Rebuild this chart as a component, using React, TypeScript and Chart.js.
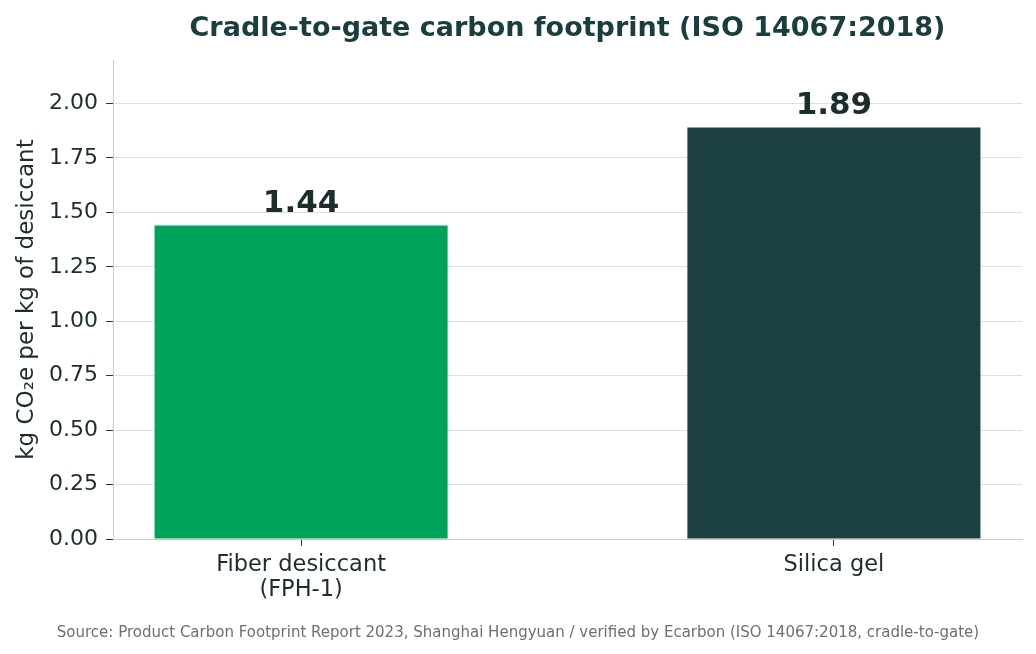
import { useRef, useEffect } from "react"
import { Chart, registerables } from "chart.js"

Chart.register(...registerables)

const categories = [["Fiber desiccant", "(FPH-1)"], ["Silica gel"]]
const footprint = [1.44, 1.89]
const barColors = ["#00a35a", "#1c4042"]
const yTicks = [0, 0.25, 0.5, 0.75, 1.0, 1.25, 1.5, 1.75, 2.0]

const TITLE = "Cradle-to-gate carbon footprint (ISO 14067:2018)"
const SOURCE =
    "Source: Product Carbon Footprint Report 2023, Shanghai Hengyuan / verified by Ecarbon (ISO 14067:2018, cradle-to-gate)"
const FONT = "'DejaVu Sans', sans-serif"
const TEXT_DARK = "#1c2e2c"

// title, source note and value labels
const annotations = {
    id: "annotations",
    afterDatasetsDraw(chart: Chart) {
        const { ctx, chartArea } = chart
        ctx.save()
        ctx.textAlign = "center"
        ctx.textBaseline = "alphabetic"

        ctx.fillStyle = "#1a3d3d"
        ctx.font = `bold 27px ${FONT}`
        ctx.fillText(TITLE, (chartArea.left + chartArea.right) / 2, 36)

        ctx.fillStyle = "#6e6e6e"
        ctx.font = `15px ${FONT}`
        ctx.fillText(SOURCE, chart.width / 2, 637)

        ctx.fillStyle = TEXT_DARK
        ctx.font = `bold 31px ${FONT}`
        const meta = chart.getDatasetMeta(0)
        meta.data.forEach((bar: any, i: number) => {
            ctx.fillText(footprint[i].toFixed(2), bar.x, bar.y - 13)
        })
        ctx.restore()
    },
}

export default function App() {
    const chartRef = useRef<HTMLCanvasElement | null>(null)
    const chartInstance = useRef<Chart | null>(null)

    useEffect(() => {
        document.body.style.margin = "0"
        if (!chartRef.current) return
        if (chartInstance.current) chartInstance.current.destroy()
        const ctx = chartRef.current.getContext("2d")
        if (!ctx) return

        chartInstance.current = new Chart(ctx, {
            type: "bar",
            data: {
                datasets: [
                    {
                        data: footprint.map((v, i) => ({ x: i, y: v })),
                        backgroundColor: barColors,
                        borderWidth: 0,
                        barPercentage: 0.55,
                        categoryPercentage: 1,
                    },
                ],
            },
            options: {
                animation: false,
                responsive: false,
                maintainAspectRatio: false,
                layout: { padding: { top: 60, right: 14, left: 0, bottom: 0 } },
                plugins: {
                    legend: { display: false },
                    tooltip: { enabled: false },
                    title: { display: false },
                },
                scales: {
                    x: {
                        type: "linear",
                        offset: false,
                        min: -0.353,
                        max: 1.353,
                        afterBuildTicks: (scale: any) => {
                            scale.ticks = categories.map((_, i) => ({ value: i }))
                        },
                        afterFit: (scale: any) => {
                            scale.height = 115
                        },
                        grid: {
                            offset: false,
                            drawOnChartArea: false,
                            drawTicks: true,
                            tickLength: 7,
                            tickColor: "#333333",
                        },
                        border: { color: "#cccccc", width: 1 },
                        ticks: {
                            color: TEXT_DARK,
                            font: { family: FONT, size: 22.5, lineHeight: 1.1 },
                            padding: 7,
                            maxRotation: 0,
                            autoSkip: false,
                            callback: (v: any) => categories[Number(v)] ?? "",
                        },
                    },
                    y: {
                        min: 0,
                        max: 2.2,
                        afterBuildTicks: (scale: any) => {
                            scale.ticks = yTicks.map((v) => ({ value: v }))
                        },
                        afterFit: (scale: any) => {
                            scale.width = 113
                        },
                        grid: {
                            color: "#dfdfdb",
                            tickLength: 7,
                            tickColor: "#333333",
                        },
                        border: { color: "#cccccc", width: 1 },
                        ticks: {
                            color: TEXT_DARK,
                            font: { family: FONT, size: 22 },
                            padding: 8,
                            callback: (v: any) => Number(v).toFixed(2),
                        },
                        title: {
                            display: true,
                            text: "kg CO\u2082e per kg of desiccant",
                            color: TEXT_DARK,
                            font: { family: FONT, size: 23 },
                            padding: { top: 13, bottom: 4 },
                        },
                    },
                },
            },
            plugins: [annotations],
        })

        return () => {
            if (chartInstance.current) chartInstance.current.destroy()
        }
    }, [])

    return (
        <div style={{ width: 1036, height: 654, background: "#ffffff" }}>
            <canvas ref={chartRef} width={1036} height={654} />
        </div>
    )
}
